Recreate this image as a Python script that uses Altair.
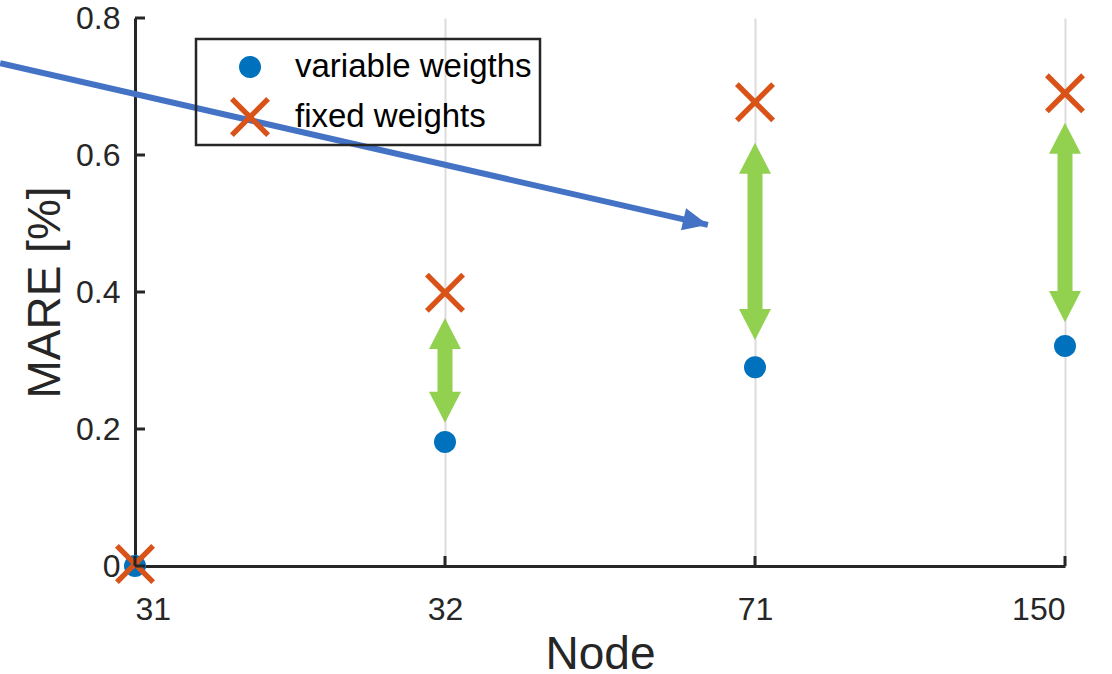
import json
import altair as alt
import pandas as pd

# ---------------- data ----------------
nodes = ["31", "32", "71", "150"]
variable_weights = [0.0, 0.181, 0.290, 0.321]
fixed_weights = [0.003, 0.399, 0.677, 0.690]
series_names = ["variable weigths", "fixed weights"]

gap_nodes = ["32", "71", "150"]
gap_top = [0.362, 0.618, 0.647]
gap_bottom = [0.209, 0.330, 0.356]

pointer_x = [-0.435, 1.848]   # node-index units
pointer_y = [0.734, 0.498]

y_ticks = [0, 0.2, 0.4, 0.6, 0.8]

# ---------------- tables ----------------
pts = pd.DataFrame(
    [{"x": i, "y": v, "series": series_names[0]} for i, v in enumerate(variable_weights)]
    + [{"x": i, "y": v, "series": series_names[1]} for i, v in enumerate(fixed_weights)]
)
gaps = pd.DataFrame({"x": [nodes.index(n) for n in gap_nodes], "top": gap_top, "bottom": gap_bottom})
pointer = pd.DataFrame({"x": pointer_x, "y": pointer_y, "seq": [0, 1]})
ytk = pd.DataFrame({"y": y_ticks})
xtk = pd.DataFrame({"x": list(range(len(nodes)))})

# ---------------- styles ----------------
W, H = 930, 548
FONT = "Liberation Sans"
AXC = "#262626"
BLUE = "#0072BD"
ORANGE = "#D95319"
GREEN = "#92D050"
POINTER = "#4472C4"

DOT = "M0.55,0A0.55,0.55,0,1,1,-0.55,0A0.55,0.55,0,1,1,0.55,0Z"
s = 0.19
XSHAPE = (f"M{-1+s},-1L0,{-s}L{1-s},-1L1,{-1+s}L{s},0L1,{1-s}L{1-s},1L0,{s}"
          f"L{-1+s},1L-1,{1-s}L{-s},0L-1,{-1+s}Z")
HEAD_UP = "M0,0L1,1.94L-1,1.94Z"
HEAD_DOWN = "M0,0L1,-1.94L-1,-1.94Z"
HEAD_RIGHT = "M0,0L-2,-0.9L-2,0.9Z"

xs = alt.Scale(domain=[0, len(nodes) - 1], nice=False, zero=False)
ys = alt.Scale(domain=[0, 0.8], nice=False, zero=False)

x_axis = alt.Axis(
    title="Node", values=list(range(len(nodes))),
    labelExpr=json.dumps(nodes) + "[datum.value]",
    grid=True, gridWidth=2,
    gridColor={"condition": {"test": "datum.value === 0", "value": "transparent"}, "value": "#dcdcdc"},
    domainColor=AXC, domainWidth=3, ticks=False, tickSize=0,
    labelFont=FONT, labelFontSize=32, labelColor=AXC, labelPadding=28,
    titleFont=FONT, titleFontSize=46, titleFontWeight="normal", titleColor=AXC, titlePadding=7,
)
y_axis = alt.Axis(
    title="MARE [%]", values=y_ticks, format="~g", grid=False,
    domainColor=AXC, domainWidth=3, ticks=False, tickSize=0,
    labelFont=FONT, labelFontSize=32, labelColor=AXC, labelPadding=15,
    labelBaseline="middle",
    titleFont=FONT, titleFontSize=46, titleFontWeight="normal", titleColor=AXC, titlePadding=6,
)


def X(field="x"):
    return alt.X(field, type="quantitative", scale=xs, axis=x_axis)


def Y(field="y"):
    return alt.Y(field, type="quantitative", scale=ys, axis=y_axis)


HL = 0.042  # arrow head length in data units

shafts = alt.Chart(gaps).transform_calculate(
    ts=f"datum.top - {HL}", bs=f"datum.bottom + {HL}"
).mark_rule(color=GREEN, strokeWidth=15, strokeCap="butt").encode(
    x=X(), y=Y("ts"), y2="bs:Q"
)
heads_up = alt.Chart(gaps).mark_point(
    shape=HEAD_UP, filled=True, color=GREEN, opacity=1, size=1024, strokeWidth=0
).encode(x=X(), y=Y("top"))
heads_down = alt.Chart(gaps).mark_point(
    shape=HEAD_DOWN, filled=True, color=GREEN, opacity=1, size=1024, strokeWidth=0
).encode(x=X(), y=Y("bottom"))

PAD = "\u00a0" * 7
legend = alt.Legend(
    title=None, orient="none", legendX=61, legendY=21,
    labelExpr=f"datum.label + '{PAD}'",
)
points = alt.Chart(pts).mark_point(filled=True, opacity=1, size=1600, strokeWidth=0).encode(
    x=X(), y=Y(),
    color=alt.Color("series:N", scale=alt.Scale(domain=series_names, range=[BLUE, ORANGE]),
                    legend=legend),
    shape=alt.Shape("series:N", scale=alt.Scale(domain=series_names, range=[DOT, XSHAPE]),
                    legend=legend),
    order=alt.Order("series:N", sort="descending"),
)

pointer_line = alt.Chart(pointer).mark_line(color=POINTER, strokeWidth=6, strokeCap="butt").encode(
    x=X(), y=Y(), order="seq:Q"
)
pointer_head = alt.Chart(pointer).transform_filter("datum.seq == 1").mark_point(
    shape=HEAD_RIGHT, filled=True, color=POINTER, opacity=1, size=625, angle=12.9, strokeWidth=0
).encode(x=X(), y=Y())

ytick_marks = alt.Chart(ytk).mark_rule(color=AXC, strokeWidth=3).encode(
    y=Y(), x=alt.value(0), x2=alt.value(10)
)
xtick_marks = alt.Chart(xtk).mark_rule(color=AXC, strokeWidth=3).encode(
    x=X(), y=alt.value(H), y2=alt.value(H - 10)
)

chart = alt.layer(
    shafts, heads_up, heads_down, points, pointer_line, pointer_head, ytick_marks, xtick_marks
).properties(
    width=W, height=H,
    autosize=alt.AutoSizeParams(type="none"),
    padding={"left": 135, "top": 18, "right": 47, "bottom": 108},
).configure(font=FONT).configure_view(stroke=None).configure_legend(
    strokeColor=AXC, strokeWidth=2.5, padding=8, symbolSize=1600,
    symbolOffset=26, labelOffset=25, rowPadding=13,
    labelFont=FONT, labelFontSize=33, labelColor="black", labelLimit=600,
    symbolStrokeWidth=0,
)

chart.save("out.html", embed_options={"renderer": "svg", "actions": False})
